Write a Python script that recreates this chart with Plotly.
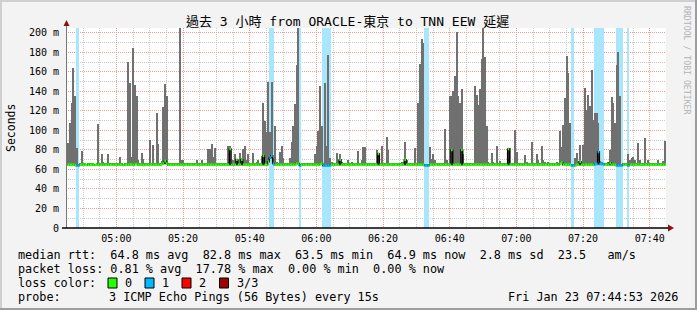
import plotly.graph_objects as go
import pandas as pd

# ---------------- data ----------------
title_text = "過去 3 小時 from ORACLE-東京 to TNN EEW 延遲"
start_time = "2026-01-23 04:44:53"
step_seconds = 30

# max rtt (top of smoke) per 30 s slot, ms
smoke_max = [
    87, 87, 108, 128, 164, 135, 82, 66, 66, 79, 66, 67, 66, 66, 67, 66, 66, 66, 66, 107,
    66, 76, 68, 66, 66, 76, 66, 66, 66, 66, 66, 66, 73, 66, 66, 66, 66, 170, 149, 73,
    185, 147, 135, 70, 66, 77, 71, 66, 66, 66, 90, 66, 85, 66, 118, 86, 66, 69, 124, 148,
    135, 66, 66, 66, 67, 66, 66, 66, 205, 70, 70, 66, 66, 66, 66, 66, 66, 66, 70, 66,
    66, 70, 66, 66, 66, 81, 81, 86, 73, 82, 66, 66, 66, 66, 66, 66, 66, 84, 84, 66,
    70, 76, 70, 70, 77, 72, 81, 84, 70, 76, 66, 66, 77, 66, 68, 70, 66, 74, 128, 110,
    98, 150, 98, 150, 72, 105, 68, 66, 78, 84, 72, 67, 66, 66, 72, 88, 105, 127, 167, 205,
    66, 66, 66, 66, 66, 66, 66, 66, 66, 76, 84, 99, 146, 105, 66, 149, 84, 177, 72, 68,
    66, 66, 77, 70, 76, 68, 66, 66, 66, 70, 66, 68, 66, 66, 66, 79, 66, 70, 83, 83,
    66, 66, 66, 66, 66, 66, 80, 72, 66, 84, 66, 66, 93, 80, 66, 66, 67, 66, 66, 67,
    66, 68, 68, 88, 70, 66, 67, 66, 66, 82, 66, 128, 168, 194, 190, 66, 66, 66, 83, 71,
    76, 70, 67, 66, 66, 66, 66, 101, 70, 66, 135, 135, 140, 156, 201, 135, 128, 142, 76, 67,
    66, 67, 66, 66, 66, 146, 136, 126, 142, 173, 205, 175, 105, 68, 66, 77, 68, 66, 84, 66,
    69, 66, 66, 66, 66, 81, 82, 66, 66, 100, 78, 66, 67, 66, 66, 75, 68, 66, 66, 88,
    66, 66, 76, 70, 66, 84, 70, 68, 66, 68, 66, 66, 66, 67, 68, 66, 99, 83, 106, 133,
    176, 159, 108, 66, 66, 72, 77, 69, 85, 66, 85, 144, 121, 136, 125, 162, 111, 118, 118, 108,
    69, 68, 66, 66, 67, 68, 80, 134, 128, 108, 167, 180, 135, 66, 66, 67, 66, 76, 70, 72,
    73, 70, 66, 87, 70, 66, 67, 92, 67, 70, 66, 66, 66, 66, 67, 70, 66, 66, 69, 89,
]

# median rtt per 30 s slot, ms
median_rtt = [
    64.8, 64.8, 64.9, 64.8, 64.8, 64.6, 64.0, 64.0, 64.8, 64.8, 64.8, 64.8, 64.5, 64.8, 64.8, 64.8, 64.8, 64.5, 64.8, 64.8,
    64.8, 64.8, 64.8, 64.8, 64.8, 64.8, 64.8, 65.0, 64.8, 64.8, 64.8, 64.8, 64.8, 64.8, 64.5, 64.8, 64.8, 64.8, 65.2, 65.0,
    64.8, 65.3, 65.5, 64.8, 64.8, 64.8, 64.5, 64.8, 64.8, 64.8, 64.8, 64.8, 64.8, 64.8, 65.0, 64.8, 64.8, 65.5, 66.0, 68.5,
    66.0, 64.8, 64.8, 64.8, 64.8, 64.8, 64.8, 64.8, 65.0, 64.8, 64.8, 64.8, 64.8, 64.8, 64.8, 64.8, 64.8, 64.8, 64.8, 64.8,
    64.8, 64.8, 64.8, 64.8, 64.8, 64.8, 64.8, 64.8, 64.8, 64.8, 64.8, 64.8, 64.8, 64.8, 64.8, 64.8, 64.8, 64.8, 81.0, 64.8,
    64.8, 64.8, 70.0, 64.8, 64.8, 70.0, 64.8, 64.8, 64.8, 64.8, 64.8, 64.8, 64.8, 64.8, 64.8, 64.8, 64.8, 64.8, 74.0, 64.8,
    64.8, 68.0, 72.0, 74.0, 66.0, 64.8, 64.8, 64.8, 64.8, 64.8, 64.8, 64.8, 64.8, 64.8, 64.8, 64.8, 64.8, 65.0, 66.0, 66.0,
    64.0, 64.8, 64.8, 64.8, 64.8, 64.8, 64.8, 64.8, 64.8, 64.8, 64.8, 64.8, 65.5, 66.0, 64.0, 64.0, 64.0, 64.0, 64.0, 64.8,
    64.8, 64.8, 64.8, 64.8, 70.0, 64.8, 64.8, 64.8, 64.8, 64.8, 64.8, 64.8, 64.8, 64.8, 64.8, 64.8, 64.8, 64.8, 64.8, 64.8,
    64.8, 64.8, 64.8, 64.8, 64.8, 64.8, 64.8, 76.0, 64.8, 64.8, 64.8, 64.8, 64.8, 64.8, 64.8, 64.8, 64.8, 64.8, 64.8, 64.8,
    64.8, 64.8, 64.8, 70.0, 64.8, 64.8, 64.8, 64.8, 64.8, 64.8, 64.8, 64.8, 64.8, 64.8, 64.8, 64.0, 64.0, 64.0, 64.8, 64.8,
    64.8, 64.8, 64.8, 64.8, 64.8, 64.8, 64.8, 64.8, 64.8, 64.8, 64.8, 80.0, 64.8, 64.8, 64.8, 64.8, 64.8, 80.0, 64.8, 64.8,
    64.8, 64.8, 64.8, 64.8, 64.8, 64.8, 64.8, 64.8, 64.8, 64.8, 64.8, 64.8, 64.8, 64.8, 64.8, 64.8, 64.8, 64.8, 64.8, 64.8,
    64.8, 64.8, 64.8, 64.8, 64.8, 81.0, 64.8, 64.8, 64.8, 64.8, 64.8, 64.8, 64.8, 64.8, 64.8, 64.8, 64.8, 64.8, 64.8, 64.8,
    64.8, 64.8, 64.8, 64.8, 64.8, 64.8, 64.8, 64.8, 64.8, 64.8, 64.8, 64.8, 64.8, 64.8, 64.8, 64.8, 66.0, 67.0, 64.8, 64.8,
    64.8, 64.8, 64.8, 64.0, 64.0, 64.0, 64.8, 64.8, 68.0, 64.8, 64.8, 64.8, 64.8, 64.8, 64.8, 64.8, 64.8, 65.5, 65.5, 78.0,
    65.5, 65.5, 65.5, 64.8, 64.8, 64.8, 66.5, 64.8, 64.8, 64.8, 64.0, 64.0, 64.0, 64.0, 64.8, 64.8, 64.8, 64.0, 64.8, 64.8,
    64.8, 64.8, 64.8, 64.8, 64.8, 64.8, 64.8, 64.8, 64.8, 64.8, 64.8, 64.8, 64.8, 64.8, 64.8, 64.8, 64.8, 64.8, 64.8, 64.8,
]

# slots (30 s) in which 1 of 3 pings was lost
loss_slots = [6, 7, 122, 123, 124, 140, 154, 155, 156, 157, 158, 215, 216, 217,
              303, 304, 317, 318, 319, 320, 321, 322, 330, 331, 332, 333, 337]

y_top = 205
ytick_vals = [0, 20, 40, 60, 80, 100, 120, 140, 160, 180, 200]
ytick_text = ["0", "20 m", "40 m", "60 m", "80 m", "100 m", "120 m", "140 m", "160 m", "180 m", "200 m"]

loss_colors = ["#26ff00", "#00b8ff", "#ff0000", "#a10000"]
loss_labels = ["0", "1", "2", "3/3"]

rtt_line = "median rtt:  64.8 ms avg  82.8 ms max  63.5 ms min  64.9 ms now  2.8 ms sd  23.5   am/s"
loss_line = "packet loss: 0.81 % avg  17.78 % max  0.00 % min  0.00 % now"
color_label = "loss color:"
probe_label = "probe:"
probe_text = "3 ICMP Echo Pings (56 Bytes) every 15s"
stamp_text = "Fri Jan 23 07:44:53 2026"
y_title = "Seconds"
credit_text = "RRDTOOL / TOBI OETIKER"

# ---------------- geometry helpers ----------------
W, H = 697, 310
L, R, T, B = 66, 31, 28, 82
PW, PH = W - L - R, H - T - B
def px(x):
    return (x - L) / PW
def py(y):
    return (H - B - y) / PH

MONO = "DejaVu Sans Mono"
TITLEF = "DejaVu Sans Mono, Noto Sans CJK TC"
LEG = 11.8
NB = "\u00a0"

n = len(smoke_max)
t0 = pd.Timestamp(start_time)
step = pd.Timedelta(seconds=step_seconds)
slot_start = [t0 + step * i for i in range(n)]
slot_end = [t0 + step * (i + 1) for i in range(n)]
slot_mid = [t0 + step * i + step / 2 for i in range(n)]
t_end = t0 + step * n
loss_set = set(loss_slots)

fig = go.Figure()

# loss background bands
fig.add_trace(go.Bar(
    x=[slot_mid[i] for i in loss_slots], y=[y_top] * len(loss_slots), base=0,
    width=step_seconds * 1000, marker=dict(color="#aae6fb", line=dict(width=0)),
    hoverinfo="skip", showlegend=False))

# smoke (median -> max)
fig.add_trace(go.Bar(
    x=slot_mid, y=[m - md for m, md in zip(smoke_max, median_rtt)], base=median_rtt,
    width=step_seconds * 1000, marker=dict(color="#707070", line=dict(width=0)),
    hoverinfo="skip", showlegend=False))

# median step line (black connections)
fig.add_trace(go.Scatter(
    x=slot_start + [t_end], y=median_rtt + [median_rtt[-1]], mode="lines",
    line=dict(color="#000000", width=1.5, shape="hv"), hoverinfo="skip", showlegend=False))

# median segments coloured by loss
for lost, col in [(False, loss_colors[0]), (True, loss_colors[1])]:
    xs, ys = [], []
    for i in range(n):
        if (i in loss_set) == lost:
            xs += [slot_start[i], slot_end[i], None]
            ys += [median_rtt[i], median_rtt[i], None]
    fig.add_trace(go.Scatter(x=xs, y=ys, mode="lines", line=dict(color=col, width=2.6),
                             hoverinfo="skip", showlegend=False))

ann = []
def text(x, y, s, size=LEG, anchor="left", **kw):
    ann.append(dict(x=px(x), y=py(y), xref="paper", yref="paper", text=s.replace(" ", NB), showarrow=False,
                    xanchor=anchor, yanchor="middle", font=dict(family=kw.pop("family", MONO), size=size,
                    color=kw.pop("color", "#000000")), **kw))

text(347.5, 21, title_text, size=13, anchor="center", family=TITLEF)
text(11, 128, y_title, size=11.5, anchor="center", textangle=-90)
text(687, 60, credit_text, size=8.2, anchor="center", textangle=90, color="#b4b4b4")

line_y = [255, 269, 283, 297]
text(16, line_y[0], rtt_line)
text(16, line_y[1], loss_line)
text(16, line_y[2], color_label)
shapes = []
for c, lab, bx in zip(loss_colors, loss_labels, [108, 145, 182, 219.5]):
    shapes.append(dict(type="rect", xref="paper", yref="paper", x0=px(bx), x1=px(bx + 9),
                       y0=py(line_y[2] - 5), y1=py(line_y[2] + 5), fillcolor=c,
                       line=dict(color="#000000", width=1)))
    text(bx + 15, line_y[2], lab)
text(16, line_y[3], probe_label)
text(107, line_y[3], probe_text)
text(680, line_y[3], stamp_text, anchor="right")

# frame
shapes += [
    dict(type="line", xref="paper", yref="paper", x0=px(0), x1=px(W), y0=py(1), y1=py(1), line=dict(color="#cfcfcf", width=2)),
    dict(type="line", xref="paper", yref="paper", x0=px(1), x1=px(1), y0=py(0), y1=py(H), line=dict(color="#cfcfcf", width=2)),
    dict(type="line", xref="paper", yref="paper", x0=px(0), x1=px(W), y0=py(H - 1), y1=py(H - 1), line=dict(color="#9e9e9e", width=2)),
    dict(type="line", xref="paper", yref="paper", x0=px(W - 1), x1=px(W - 1), y0=py(0), y1=py(H), line=dict(color="#9e9e9e", width=2)),
    # axes
    dict(type="line", xref="paper", yref="paper", x0=px(66.5), x1=px(66.5), y0=py(228), y1=py(24), line=dict(color="#777777", width=1)),
    dict(type="line", xref="paper", yref="paper", x0=px(62), x1=px(669), y0=py(228), y1=py(228), line=dict(color="#000000", width=1.3)),
    dict(type="path", xref="paper", yref="paper",
         path=f"M {px(63.5)},{py(26)} L {px(69.5)},{py(26)} L {px(66.5)},{py(20)} Z",
         fillcolor="#8b1010", line=dict(width=0)),
    dict(type="path", xref="paper", yref="paper",
         path=f"M {px(668)},{py(224.5)} L {px(668)},{py(231.5)} L {px(674)},{py(228)} Z",
         fillcolor="#8b1010", line=dict(width=0)),
]

fig.update_layout(
    width=W, height=H, margin=dict(l=L, r=R, t=T, b=B),
    paper_bgcolor="#f3f3f3", plot_bgcolor="#ffffff",
    barmode="overlay", bargap=0, showlegend=False,
    annotations=ann, shapes=shapes,
    xaxis=dict(type="date", range=[t0, t_end], tick0="2026-01-23 05:00:00", dtick=20 * 60 * 1000,
               tickformat="%H:%M", showgrid=True, gridcolor="#f09a9a", griddash="1px,1px", gridwidth=1,
               minor=dict(dtick=5 * 60 * 1000, tick0="2026-01-23 05:00:00", showgrid=True,
                          gridcolor="#c8c8c8", griddash="1px,1px", gridwidth=1),
               showline=False, zeroline=False, ticks="", ticklabelstandoff=3,
               tickfont=dict(family=MONO, size=10, color="#000000"), fixedrange=True),
    yaxis=dict(range=[0, y_top], tickmode="array", tickvals=ytick_vals, ticktext=ytick_text,
               showgrid=True, gridcolor="#f09a9a", griddash="1px,1px", gridwidth=1,
               minor=dict(tickmode="linear", tick0=0, dtick=10, showgrid=True,
                          gridcolor="#c8c8c8", griddash="1px,1px", gridwidth=1),
               showline=False, zeroline=False, ticks="", ticklabelstandoff=6,
               tickfont=dict(family=MONO, size=10, color="#000000"), fixedrange=True),
)

fig.write_html("out.html")
